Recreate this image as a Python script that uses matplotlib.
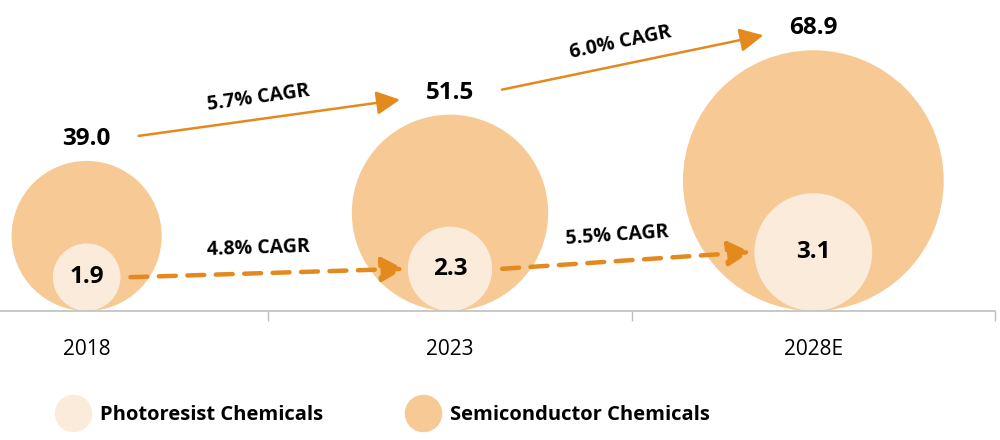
import numpy as np
import matplotlib
matplotlib.use('Agg')
from matplotlib import pyplot as plt
from matplotlib.patches import Ellipse
from matplotlib.lines import Line2D


years = ['2018', '2023', '2028E']
semi_vals = [39.0, 51.5, 68.9]
photo_vals = [1.9, 2.3, 3.1]
semi_cagr = ['5.7% CAGR', '6.0% CAGR']
photo_cagr = ['4.8% CAGR', '5.5% CAGR']

semi_color = '#F6C995'
photo_color = '#FBEBDB'
arrow_color = '#E3891E'
axis_color = '#BFBFBF'

plt.rcParams['font.family'] = ['Open Sans', 'DejaVu Sans']

fig = plt.figure(figsize=(10, 4.4), dpi=100, facecolor='w')
# axes runs a bit past the left edge, like the cropped original
ax = fig.add_axes([-0.095, 129 / 440, 1.09, 311 / 440])
ax.set_xlim(-0.5, 2.5)
ax.set_ylim(0, 311)
px = 3 / 1090.0  # x data units per pixel, y data is already in pixels

# bubble radius (px) = a + b * value
semi_r = [2.9 + 1.85 * v for v in semi_vals]
photo_r = [-5.9 + 20.9 * v for v in photo_vals]
semi_label_y = [2 * r + 22 for r in semi_r]

for i in range(len(years)):
    ax.add_patch(Ellipse((i, semi_r[i]), 2 * semi_r[i] * px, 2 * semi_r[i],
                         facecolor=semi_color, edgecolor='none', clip_on=False))
    ax.add_patch(Ellipse((i, photo_r[i]), 2 * photo_r[i] * px, 2 * photo_r[i],
                         facecolor=photo_color, edgecolor='none', clip_on=False))
    ax.text(i, semi_label_y[i], f'{semi_vals[i]:.1f}', ha='center', va='center',
            fontsize=17.5, fontweight='bold')
    ax.text(i, photo_r[i], f'{photo_vals[i]:.1f}', ha='center', va='center',
            fontsize=17.5, fontweight='bold')


def cagr_arrow(x0, y0, x1, y1, label, dashed, lift):
    if dashed:
        props = dict(arrowstyle='-|>,head_length=0.9,head_width=0.5', color=arrow_color,
                     lw=3.2, linestyle=(0, (3.8, 2.6)), shrinkA=0, shrinkB=0,
                     mutation_scale=15)
    else:
        props = dict(arrowstyle='-|>,head_length=0.9,head_width=0.45', color=arrow_color,
                     lw=1.8, shrinkA=0, shrinkB=0, mutation_scale=16)
    ax.annotate('', xy=(x1, y1), xytext=(x0, y0), arrowprops=props, annotation_clip=False)
    ang = np.arctan2(y1 - y0, (x1 - x0) / px)
    mx = (x0 + x1) / 2 - lift * np.sin(ang) * px
    my = (y0 + y1) / 2 + lift * np.cos(ang)
    ax.text(mx - 8 * px, my, label, ha='center', va='center', rotation=np.degrees(ang),
            rotation_mode='anchor', fontsize=14, fontweight='bold')


for i in range(len(years) - 1):
    cagr_arrow(i + 52 * px, semi_label_y[i] + 3, i + 1 - 50 * px, semi_label_y[i + 1] - 7,
               semi_cagr[i], False, 20)
    cagr_arrow(i + (photo_r[i] + 10) * px, photo_r[i],
               i + 1 - (photo_r[i + 1] + 4) * px, photo_r[i + 1],
               photo_cagr[i], True, 25)

for s in ['top', 'left', 'right']:
    ax.spines[s].set_visible(False)
ax.spines['bottom'].set_color(axis_color)
ax.spines['bottom'].set_linewidth(1.2)
ax.set_yticks([])
ax.set_xticks(range(len(years)), years)
ax.set_xticks([0.5, 1.5, 2.5], minor=True)
ax.tick_params(axis='x', which='major', length=0, pad=20, labelsize=15)
ax.tick_params(axis='x', which='minor', length=7, width=1, color=axis_color)

handles = [Line2D([], [], marker='o', ls='', ms=27, mfc=photo_color, mec='none',
                  label='Photoresist Chemicals'),
           Line2D([], [], marker='o', ls='', ms=27, mfc=semi_color, mec='none',
                  label='Semiconductor Chemicals')]
fig.legend(handles=handles, loc='center left', bbox_to_anchor=(0.037, 1 - 415 / 440),
           ncol=2, frameon=False, prop=dict(weight='bold', size=14.5),
           handlelength=1.8, handletextpad=0.45, columnspacing=4.05)

fig.savefig('out.png', dpi=100, facecolor='w')
